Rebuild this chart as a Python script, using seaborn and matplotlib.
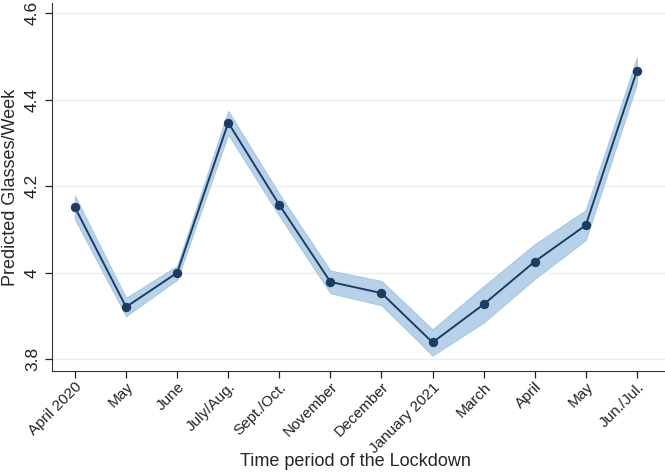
import numpy as np
import pandas as pd
import seaborn as sns
import matplotlib
matplotlib.use('Agg')
import matplotlib.pyplot as plt

periods = ['April 2020', 'May', 'June', 'July/Aug.', 'Sept./Oct.', 'November',
           'December', 'January 2021', 'March', 'April', 'May', 'Jun./Jul.']
predicted = [4.151, 3.921, 4.000, 4.347, 4.157, 3.979,
             3.953, 3.839, 3.927, 4.026, 4.110, 4.467]
ci_low = [4.124, 3.900, 3.984, 4.320, 4.132, 3.953,
          3.925, 3.809, 3.885, 3.986, 4.076, 4.437]
ci_high = [4.178, 3.942, 4.016, 4.374, 4.182, 4.005,
           3.981, 3.869, 3.969, 4.066, 4.145, 4.497]
y_ticks = [3.8, 4.0, 4.2, 4.4, 4.6]
y_tick_labels = ['3.8', '4', '4.2', '4.4', '4.6']

df = pd.DataFrame({'pos': np.arange(len(periods)), 'pred': predicted,
                   'lo': ci_low, 'hi': ci_high})

sns.set_style('ticks')
plt.rcParams['font.family'] = ['Liberation Sans', 'DejaVu Sans']

fig = plt.figure(figsize=(6.65, 4.72), dpi=100)
ax = fig.add_axes([0.0777, 0.214, 0.9223, 0.78])

# confidence band, then the line with markers on top
ax.fill_between(df['pos'], df['lo'], df['hi'], color='#b0cee6', alpha=0.9,
                linewidth=0.8, edgecolor='#a2c4df', zorder=2)
sns.lineplot(data=df, x='pos', y='pred', ax=ax, color='#1c3c62', linewidth=1.4,
             marker='o', markersize=6, markeredgecolor='#1c3c62', zorder=3)

ax.set_xlim(-0.456, 11.55)
ax.set_ylim(3.773, 4.624)
ax.set_yticks(y_ticks)
ax.set_yticklabels(y_tick_labels, rotation=90, va='center', fontsize=12.5)
ax.set_xticks(df['pos'])
ax.set_xticklabels(periods, rotation=45, ha='right', rotation_mode='anchor', fontsize=11)
ax.grid(axis='y', color='#eaeff2', linewidth=1)
ax.set_axisbelow(True)

ax.set_xlabel('Time period of the Lockdown', fontsize=13, va='center')
ax.xaxis.set_label_coords(0.4945, -0.245)
ax.set_ylabel('Predicted Glasses/Week', fontsize=13, labelpad=4)

for side in ['top', 'right']:
    ax.spines[side].set_visible(False)
for side in ['left', 'bottom']:
    ax.spines[side].set_color('#333333')
ax.tick_params(colors='#222222', length=5, width=0.9)
ax.tick_params(axis='x', pad=1.5)

fig.savefig('out.png', dpi=100)
